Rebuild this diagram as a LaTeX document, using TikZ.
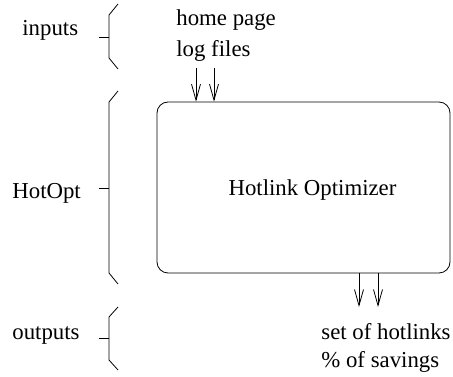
\documentclass[tikz,border=0pt]{standalone}
\usepackage{fontspec}
\setmainfont{Liberation Serif}
\usetikzlibrary{arrows.meta}
\begin{document}
\begin{tikzpicture}[x=1pt,y=1pt,line width=0.8pt,
  lbl/.style={inner sep=0pt,anchor=base west,font=\fontsize{22.8}{24}\selectfont},
  arr/.style={-{Straight Barb[length=16pt,width=9pt,line width=0.8pt]}},
  brc/.style={line width=0.8pt}]
\useasboundingbox (0,0) rectangle (453,377);
% braces
\draw[brc] (118,373) -- (109,362) -- (109,319) -- (118,308);
\draw[brc] (99,340) -- (109,340);
\draw[brc] (118,286) -- (109,275) -- (109,104) -- (118,93);
\draw[brc] (99,189) -- (109,189);
\draw[brc] (118,70) -- (109,60) -- (109,17) -- (118,7);
\draw[brc] (99,39) -- (109,39);
% labels
\node[lbl] (tin) at (22,341) {inputs};
\node[lbl] (thot) at (12,178) {HotOpt};
\node[lbl] (tout) at (12,37) {outputs};
\node[lbl] (hp) at (176,351) {home page};
\node[lbl] (lf) at (176,320) {log files};
\node[lbl] (sh) at (321,37) {set of hotlinks};
\node[lbl] (sv) at (321,9) {\% of savings};
% box
\node[draw,rounded corners=11pt,minimum width=293pt,minimum height=171pt,inner sep=0pt] (box) at (303.5,189.5) {};
\node[lbl,anchor=base] (bt) at (312.5,181) {Hotlink Optimizer};
% arrows
\coordinate (i1) at (196,309);
\coordinate (i2) at (214,309);
\coordinate (o1) at (359,70);
\coordinate (o2) at (378,70);
\draw[arr] (i1) -- (i1 |- box.north);
\draw[arr] (i2) -- (i2 |- box.north);
\draw[arr] (o1 |- box.south) -- (o1);
\draw[arr] (o2 |- box.south) -- (o2);
\end{tikzpicture}
\end{document}
